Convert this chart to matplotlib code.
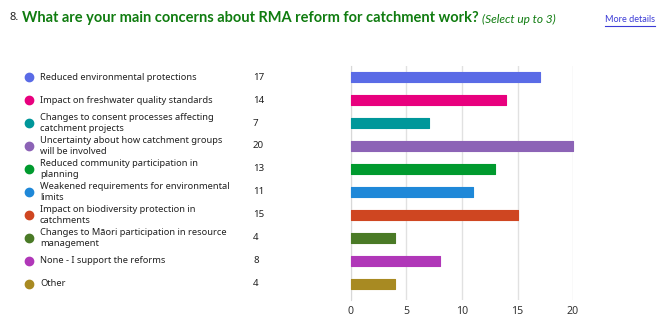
import matplotlib.pyplot as plt
from matplotlib.transforms import blended_transform_factory

categories = [
    'Reduced environmental protections',
    'Impact on freshwater quality standards',
    'Changes to consent processes affecting\ncatchment projects',
    'Uncertainty about how catchment groups\nwill be involved',
    'Reduced community participation in\nplanning',
    'Weakened requirements for environmental\nlimits',
    'Impact on biodiversity protection in\ncatchments',
    'Changes to Māori participation in resource\nmanagement',
    'None - I support the reforms',
    'Other',
]
counts = [17, 14, 7, 20, 13, 11, 15, 4, 8, 4]
colors = ['#5A6BE6', '#E8007E', '#00979A', '#8C63B6', '#009A2E',
          '#1F88D8', '#CF4621', '#4A7A26', '#B037B8', '#A88A22']
x_ticks = [0, 5, 10, 15, 20]

plt.rcParams['font.family'] = ['Noto Sans', 'DejaVu Sans']

fig = plt.figure(figsize=(6.68, 3.28), dpi=100)
ax = fig.add_axes([351 / 668, 1 - 300 / 328, 222 / 668, 234 / 328])

y = list(range(len(categories)))
ax.barh(y, counts, height=0.44, color=colors, edgecolor=colors,
        linewidth=0.8, joinstyle='round', clip_on=False, zorder=3)
ax.set_xlim(0, 20)
ax.set_ylim(9.7, -0.48)
ax.set_xticks(x_ticks)
ax.set_yticks([])
ax.tick_params(axis='x', length=0, labelsize=7.6, colors='#333333', pad=4)
ax.grid(axis='x', color='#e1e1e1', linewidth=1, zorder=0)
for side in ['top', 'right', 'bottom']:
    ax.spines[side].set_visible(False)
ax.spines['left'].set_color('#d8d8d8')

# legend-like list on the left
tr = blended_transform_factory(fig.transFigure, ax.transData)
for i, (label, n, c) in enumerate(zip(categories, counts, colors)):
    fig.lines.append(plt.Line2D([29 / 668], [i], transform=tr, marker='o',
                                markersize=6, color=c, linestyle='none'))
    fig.text(40 / 668, i, label, transform=tr, fontsize=6.7, va='center',
             ha='left', color='#222222', linespacing=1.4)
    fig.text(253 / 668, i, str(n), transform=tr, fontsize=7.0, va='center',
             ha='left', color='#222222')

# title
fig.text(9 / 668, 1 - 18 / 328, '8.', fontsize=8, color='#222222', va='center')
t = fig.text(22 / 668, 1 - 18 / 328,
             'What are your main concerns about RMA reform for catchment work?',
             fontsize=11.5, fontweight='bold', color='#107C10', va='center',
             family=['Lato', 'DejaVu Sans'])
fig.canvas.draw()
w = t.get_window_extent().width
t.set_fontsize(11.5 * 455 / w)
fig.text(482 / 668, 1 - 19 / 328, '(Select up to 3)', fontsize=8.6,
         style='italic', color='#107C10', va='center',
         family=['Lato', 'DejaVu Sans'])
fig.text(605 / 668, 1 - 20 / 328, 'More details', fontsize=6.6,
         color='#3b3bd6', va='center', family=['Lato', 'DejaVu Sans'])
fig.lines.append(plt.Line2D([605 / 668, 655 / 668], [1 - 26 / 328, 1 - 26 / 328],
                            transform=fig.transFigure, color='#3b3bd6', linewidth=0.8))

fig.savefig('out.png', dpi=100)
